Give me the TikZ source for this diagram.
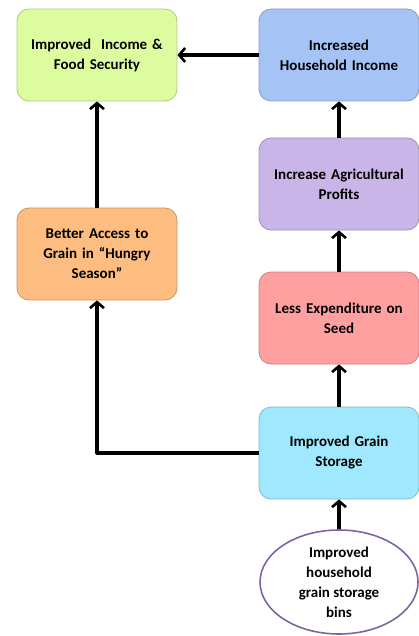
\documentclass[tikz,border=0pt]{standalone}
\usepackage{fontspec}
\setmainfont{Carlito}
\usetikzlibrary{arrows.meta,positioning,shapes.geometric}

\definecolor{boxgreen}{HTML}{DDFCA0}
\definecolor{boxblue}{HTML}{A5C3F5}
\definecolor{boxpurple}{HTML}{C9B5E8}
\definecolor{boxpink}{HTML}{FFA0A0}
\definecolor{boxcyan}{HTML}{A0E8FD}
\definecolor{boxorange}{HTML}{FDBC80}
\definecolor{binline}{HTML}{8064A2}

\begin{document}
\begin{tikzpicture}[
		x=1pt, y=-1pt,
		line join=round,
		>={Straight Barb[length=6pt,width=14pt,line width=2.6pt]},
		% --- boxes of the chain ---
		box/.style={draw=#1!80!black, fill=#1, line width=0.8pt,
			rounded corners=12pt, minimum width=160pt, minimum height=92pt,
			align=center, text width=150pt, font=\bfseries\fontsize{15}{20}\selectfont},
		link/.style={->, line width=3.2pt}
		]
		
		% ---------- Frame ----------
		\useasboundingbox (0,0) rectangle (419,636);
		
		% ---------- Boxes ----------
		\node[box=boxgreen]  (income)    at (97,55)   {Improved\ \ Income \&\\Food Security};
		\node[box=boxblue]   (household) at (339,55)  {Increased\\Household Income};
		\node[box=boxpurple] (profits)   at (339,184) {Increase Agricultural\\Profits};
		\node[box=boxpink]   (seed)      at (339,318) {Less Expenditure on\\Seed};
		\node[box=boxcyan]   (storage)   at (339,453) {Improved Grain\\Storage};
		\node[box=boxorange] (access)    at (97,254)  {Better Access to\\Grain in ``Hungry\\Season''};
		
		% ---------- Starting point ----------
		\node[ellipse, draw=binline, line width=1.6pt, fill=white,
			minimum width=158pt, minimum height=104pt, inner sep=0pt,
			align=center, font=\bfseries\fontsize{15}{20}\selectfont]
			(bins) at (339,582) {Improved\\household\\grain storage\\bins};
		
		% ---------- Links ----------
		\draw[link] (bins) -- (storage);
		\draw[link] (storage) -- (seed);
		\draw[link] (seed) -- (profits);
		\draw[link] (profits) -- (household);
		\draw[link] (household) -- (income);
		\draw[link] (storage.west) -| (access.south);
		\draw[link] (access) -- (income);
		
	\end{tikzpicture}
\end{document}
